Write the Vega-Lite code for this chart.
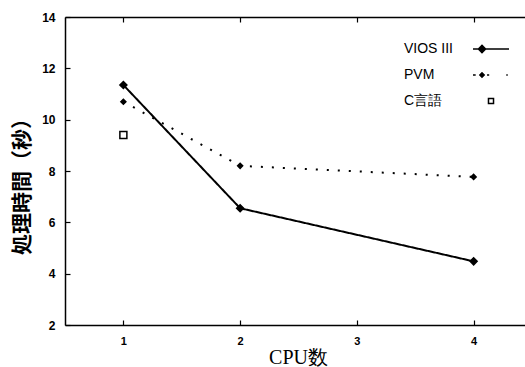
{
  "$schema": "https://vega.github.io/schema/vega-lite/v6.json",
  "width": 460,
  "height": 308,
  "autosize": "none",
  "padding": {"left": 65, "top": 17, "right": 0, "bottom": 42},
  "background": "white",
  "config": {"view": {"stroke": null}, "font": "Liberation Sans"},
  "data": {
    "values": [
      {"series": "VIOS III", "cpu": 1, "time": 11.35},
      {"series": "VIOS III", "cpu": 2, "time": 6.55},
      {"series": "VIOS III", "cpu": 4, "time": 4.48},
      {"series": "PVM", "cpu": 1, "time": 10.7},
      {"series": "PVM", "cpu": 2, "time": 8.2},
      {"series": "PVM", "cpu": 4, "time": 7.77},
      {"series": "C言語", "cpu": 1, "time": 9.4}
    ]
  },
  "layer": [
    {
      "transform": [{"filter": "datum.series !== 'C言語'"}],
      "mark": {"type": "line", "color": "black", "strokeWidth": 2},
      "encoding": {
        "x": {
          "field": "cpu", "type": "quantitative",
          "scale": {"domain": [0.5, 4.44], "nice": false, "zero": false},
          "axis": {
            "orient": "bottom", "values": [1, 2, 3, 4], "grid": false,
            "tickSize": -5, "tickColor": "black", "tickWidth": 1.2,
            "domainColor": "black", "domainWidth": 1.5,
            "labelPadding": 15, "labelFontSize": 11, "labelFontWeight": "bold",
            "labelColor": "black", "labelFlush": false,
            "title": "CPU数", "titleFont": "Liberation Serif", "titleFontSize": 20,
            "titleFontWeight": "normal", "titleColor": "black",
            "titleX": 233, "titleY": 32, "titleBaseline": "middle", "titleAlign": "center"
          }
        },
        "y": {
          "field": "time", "type": "quantitative",
          "scale": {"domain": [2, 14], "nice": false, "zero": false},
          "axis": {
            "values": [2, 4, 6, 8, 10, 12, 14], "grid": false,
            "tickSize": -5, "tickColor": "black", "tickWidth": 1.2,
            "domainColor": "black", "domainWidth": 1.5,
            "labelPadding": 15, "labelFontSize": 12, "labelFontWeight": "bold",
            "labelColor": "black", "labelFlush": false,
            "title": "処理時間（秒）", "titleFont": "Noto Sans CJK JP", "titleFontSize": 21,
            "titleFontWeight": "bold", "titleColor": "black",
            "titleX": -43, "titleY": 164, "titleAngle": -90,
            "titleAlign": "center", "titleBaseline": "middle"
          }
        },
        "strokeDash": {
          "field": "series", "type": "nominal",
          "scale": {"domain": ["VIOS III", "PVM"], "range": [[1, 0], [2, 9]]},
          "legend": null
        }
      }
    },
    {
      "mark": {"type": "point", "filled": true, "strokeWidth": 1.5, "opacity": 1},
      "encoding": {
        "x": {
          "field": "cpu", "type": "quantitative",
          "axis": {
            "orient": "top", "values": [1, 2, 3, 4], "grid": false,
            "labels": false, "title": null,
            "tickSize": -5, "tickColor": "black", "tickWidth": 1.2,
            "domainColor": "black", "domainWidth": 1.5
          }
        },
        "y": {"field": "time", "type": "quantitative"},
        "shape": {"condition": {"test": "datum.series === 'C言語'", "value": "square"}, "value": "diamond"},
        "size": {"condition": {"test": "datum.series === 'PVM'", "value": 25}, "value": 49},
        "fill": {"condition": {"test": "datum.series === 'C言語'", "value": "white"}, "value": "black"},
        "stroke": {"value": "black"}
      }
    },
    {
      "transform": [{"filter": "false"}],
      "mark": {"type": "point", "filled": false, "color": "black", "opacity": 1, "strokeWidth": 1.5},
      "encoding": {
        "x": {"field": "cpu", "type": "quantitative", "axis": null},
        "y": {"field": "time", "type": "quantitative"},
        "shape": {
          "field": "series", "type": "nominal",
          "scale": {
            "domain": ["VIOS III", "PVM", "C言語"],
            "range": [
              "M-1,0L1,0M-0.7,0L-0.5,-0.2L-0.3,0L-0.5,0.2ZM-0.6,0L-0.5,-0.1L-0.4,0L-0.5,0.1ZM-0.5,-0.15L-0.5,0.15",
              "M-1,0L-0.85,0M-0.62,0L-0.5,-0.12L-0.38,0L-0.5,0.12ZM-0.5,-0.1L-0.5,0.1M-0.65,0L-0.35,0M-0.22,0L-0.1,0M0.85,0L0.93,0",
              "M-0.14,-0.14L0.14,-0.14L0.14,0.14L-0.14,0.14Z"
            ]
          },
          "legend": {
            "orient": "none", "legendX": 300, "legendY": 13, "title": null,
            "padding": 0, "rowPadding": -12.5, "symbolSize": 1296,
            "symbolOffset": 107, "labelOffset": -106,
            "symbolStrokeColor": "black", "symbolStrokeWidth": 1.5, "symbolOpacity": 1,
            "labelFont": "Liberation Sans", "labelFontSize": 14, "labelColor": "black"
          }
        }
      }
    }
  ],
  "resolve": {"scale": {"x": "shared"}, "axis": {"x": "independent"}}
}
